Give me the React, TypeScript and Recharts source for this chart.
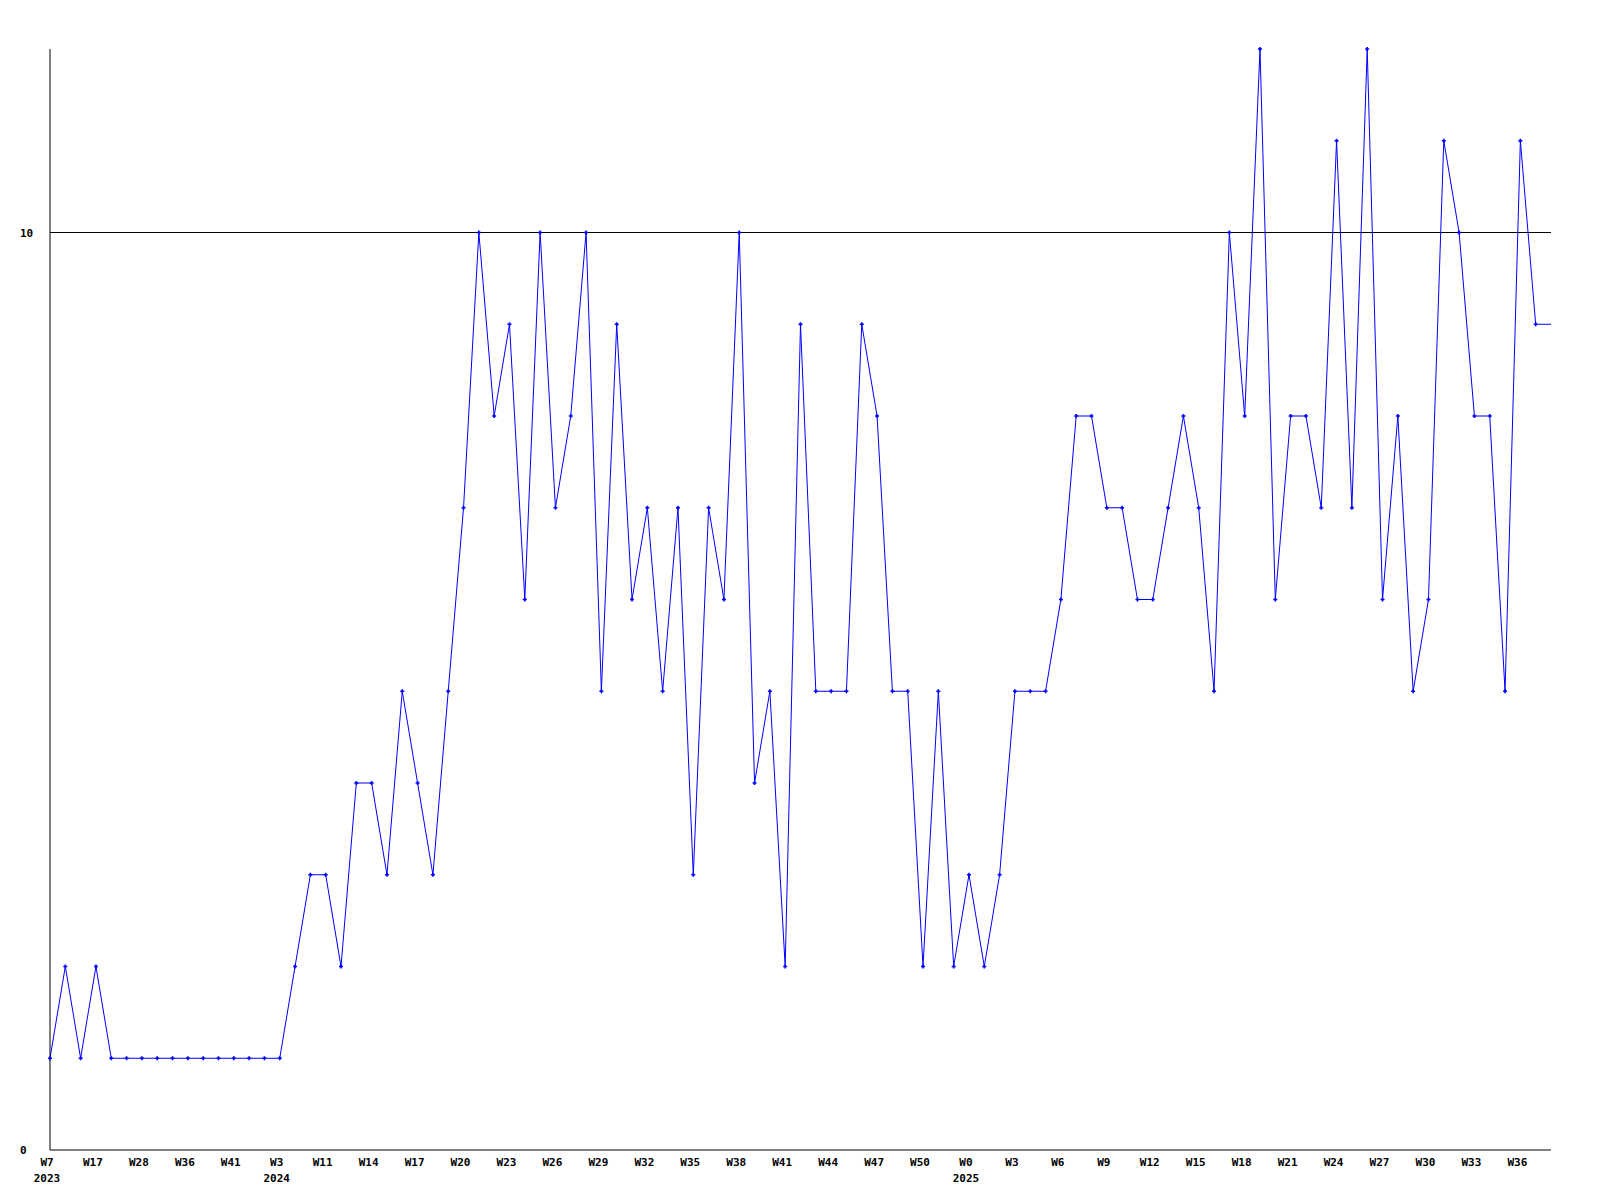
import { LineChart, Line, XAxis, YAxis, ReferenceLine } from 'recharts'

// week numbers per point (the year changes at the indexes in yearStarts)
const weeks = [
  7, 9, 13, 17, 21, 25, 28, 31, 33, 36, 38, 40, 41, 44, 49,
  3, 6, 9, 11, 12, 13,
  14, 15, 16, 17, 18, 19, 20, 21, 22, 23, 24, 25, 26, 27, 28, 29, 30, 31, 32, 33,
  34, 35, 36, 37, 38, 39, 40, 41, 42, 43, 44, 45, 46, 47, 48, 49, 50, 51, 52,
  0, 1, 2, 3, 4, 5, 6, 7, 8, 9, 10, 11, 12, 13, 14, 15, 16, 17, 18, 19,
  20, 21, 22, 23, 24, 25, 26, 27, 28, 29, 30, 31, 32, 33, 34, 35, 36, 37, 38,
]
const yearStarts = [0, 15, 60]
const yearNames = ['2023', '2024', '2025']

const values = [
  1, 2, 1, 2, 1, 1, 1, 1, 1, 1, 1, 1, 1, 1, 1,
  1, 2, 3, 3, 2, 4,
  4, 3, 5, 4, 3, 5, 7, 10, 8, 9, 6, 10, 7, 8, 10, 5, 9, 6, 7,
  5, 7, 3, 7, 6, 10, 4, 5, 2, 9, 5, 5, 5, 9, 8, 5, 5, 2, 5, 2,
  3, 2, 3, 5, 5, 5, 6, 8, 8, 7, 7, 6, 6, 7, 8, 7, 5, 10, 8, 12,
  6, 8, 8, 7, 11, 7, 12, 6, 8, 5, 6, 11, 10, 8, 8, 5, 11, 9, 9,
]

const yTicks = [0, 10]

const data = values.map((v, i) => ({ week: 'W' + weeks[i], count: v }))

const FONT = '"DejaVu Sans Mono", monospace'

function WeekTick(props: any) {
  const { x, y, payload } = props
  const i = payload.index
  const yi = yearStarts.indexOf(i)
  return (
    <g>
      <text x={x - 3} y={y + 8} textAnchor="middle" fontFamily={FONT} fontSize={11} fontWeight="bold" fill="#000">
        {payload.value}
      </text>
      {yi >= 0 && (
        <text x={x - 3} y={y + 24} textAnchor="middle" fontFamily={FONT} fontSize={11} fontWeight="bold" fill="#000">
          {yearNames[yi]}
        </text>
      )}
    </g>
  )
}

function CountTick(props: any) {
  const { y, payload } = props
  return (
    <text x={20} y={y + 4} textAnchor="start" fontFamily={FONT} fontSize={11} fontWeight="bold" fill="#000">
      {payload.value}
    </text>
  )
}

function Cross(props: any) {
  const { cx, cy, index } = props
  if (index === values.length - 1) return <g key={index} />
  return (
    <path key={index} d={`M${cx - 2},${cy}H${cx + 2}M${cx},${cy - 2}V${cy + 2}`}
      stroke="#0000ff" strokeWidth={1.6} fill="none" />
  )
}

export default function App() {
  return (
    <div style={{ position: 'absolute', left: 0, top: 0, background: '#fff' }}>
      <LineChart width={1600} height={1200} data={data}
        margin={{ top: 49, right: 49, left: 0, bottom: 0 }}>
        <XAxis dataKey="week" interval={2} height={50} tickLine={false}
          axisLine={{ stroke: '#000', strokeWidth: 1 }} tick={<WeekTick />} />
        <YAxis domain={[0, 12]} ticks={yTicks} width={50} tickLine={false}
          axisLine={{ stroke: '#000', strokeWidth: 1 }} tick={<CountTick />} />
        <ReferenceLine y={10} stroke="#000" strokeWidth={1} />
        <Line type="linear" dataKey="count" stroke="#0000ff" strokeWidth={1}
          dot={<Cross />} activeDot={false} isAnimationActive={false} />
      </LineChart>
    </div>
  )
}
